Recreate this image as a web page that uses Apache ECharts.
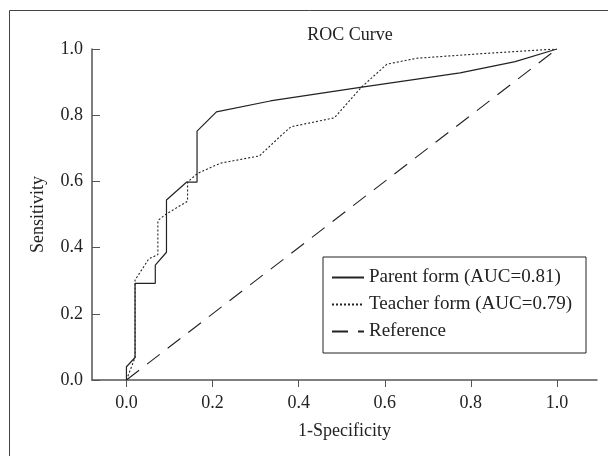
<!DOCTYPE html>
<html>
<head>
<meta charset="utf-8">
<script src="https://cdn.jsdelivr.net/npm/echarts@6/dist/echarts.min.js"></script>
<style>html,body{margin:0;padding:0;background:#fff}#c{width:608px;height:456px}</style>
</head>
<body>
<div id="c"></div>
<script>
var titleText = 'ROC Curve';
var xName = '1-Specificity';
var yName = 'Sensitivity';
var tickValues = [0, 0.2, 0.4, 0.6, 0.8, 1.0];
var seriesNames = ['Parent form (AUC=0.81)', 'Teacher form (AUC=0.79)', 'Reference'];
var parentX = [0, 0, 0.02, 0.02, 0.067, 0.067, 0.093, 0.093, 0.14, 0.164, 0.164, 0.209, 0.334, 0.543, 0.775, 0.903, 1.0];
var parentY = [0, 0.04, 0.068, 0.292, 0.292, 0.347, 0.386, 0.544, 0.598, 0.598, 0.752, 0.81, 0.843, 0.884, 0.928, 0.962, 1.0];
var teacherX = [0, 0.02, 0.02, 0.052, 0.073, 0.073, 0.093, 0.142, 0.142, 0.165, 0.218, 0.309, 0.357, 0.382, 0.483, 0.547, 0.605, 0.674, 0.837, 1.0];
var teacherY = [0, 0.068, 0.302, 0.366, 0.379, 0.482, 0.502, 0.54, 0.598, 0.624, 0.655, 0.677, 0.736, 0.765, 0.792, 0.886, 0.954, 0.972, 0.987, 1.0];
var refX = [0, 1];
var refY = [0, 1];

function pairs(xs, ys) { return xs.map(function (x, i) { return [x, ys[i]]; }); }

var FONT = '"Liberation Serif", "DejaVu Serif", serif';
var chart = echarts.init(document.getElementById('c'));
chart.setOption({
  animation: false,
  backgroundColor: '#fff',
  title: {
    text: titleText, left: 345, top: 21, textAlign: 'center',
    textStyle: { fontFamily: FONT, fontSize: 18, fontWeight: 'normal', color: '#222' }
  },
  graphic: [{
    type: 'rect', shape: { x: 9.5, y: 10.5, width: 700, height: 500 },
    style: { fill: 'none', stroke: '#444', lineWidth: 1 }, silent: true
  }],
  legend: {
    orient: 'vertical', left: 323, top: 257,
    padding: [11, 14, 12, 8], itemGap: 8, itemWidth: 32, itemHeight: 14,
    borderColor: '#222', borderWidth: 1,
    itemStyle: { opacity: 0 },
    textStyle: { fontFamily: FONT, fontSize: 19, color: '#222' },
    data: seriesNames
  },
  grid: { left: 92, right: 11, top: 49, bottom: 76 },
  xAxis: {
    type: 'value', min: -0.08, max: 1.093,
    name: xName, nameLocation: 'middle', nameGap: 42,
    nameTextStyle: { fontFamily: FONT, fontSize: 18, color: '#222' },
    axisLine: { show: true, onZero: false, lineStyle: { color: '#555', width: 1.5 } },
    axisTick: { show: true, length: 7, customValues: tickValues, lineStyle: { color: '#555' } },
    axisLabel: { customValues: tickValues, margin: 14, fontFamily: FONT, fontSize: 18, color: '#222',
      formatter: function (v) { return v.toFixed(1); } },
    splitLine: { show: false }
  },
  yAxis: {
    type: 'value', min: 0, max: 1, interval: 0.2,
    name: yName, nameLocation: 'middle', nameGap: 45, nameRotate: 90,
    nameTextStyle: { fontFamily: FONT, fontSize: 18, color: '#222' },
    axisLine: { show: true, onZero: false, lineStyle: { color: '#555', width: 1.5 } },
    axisTick: { show: true, inside: true, length: 8, lineStyle: { color: '#555' } },
    axisLabel: { margin: 9, fontFamily: FONT, fontSize: 18, color: '#222',
      formatter: function (v) { return v.toFixed(1); } },
    splitLine: { show: false }
  },
  series: [
    { name: seriesNames[0], type: 'line', symbol: 'none', data: pairs(parentX, parentY),
      lineStyle: { color: '#222', width: 1.2, type: 'solid' }, itemStyle: { color: '#222' } },
    { name: seriesNames[1], type: 'line', symbol: 'none', data: pairs(teacherX, teacherY),
      lineStyle: { color: '#222', width: 1.1, type: [2, 2] }, itemStyle: { color: '#222' } },
    { name: seriesNames[2], type: 'line', symbol: 'none', data: pairs(refX, refY),
      lineStyle: { color: '#222', width: 1.1, type: [16, 10] }, itemStyle: { color: '#222' } }
  ]
});
</script>
</body>
</html>
